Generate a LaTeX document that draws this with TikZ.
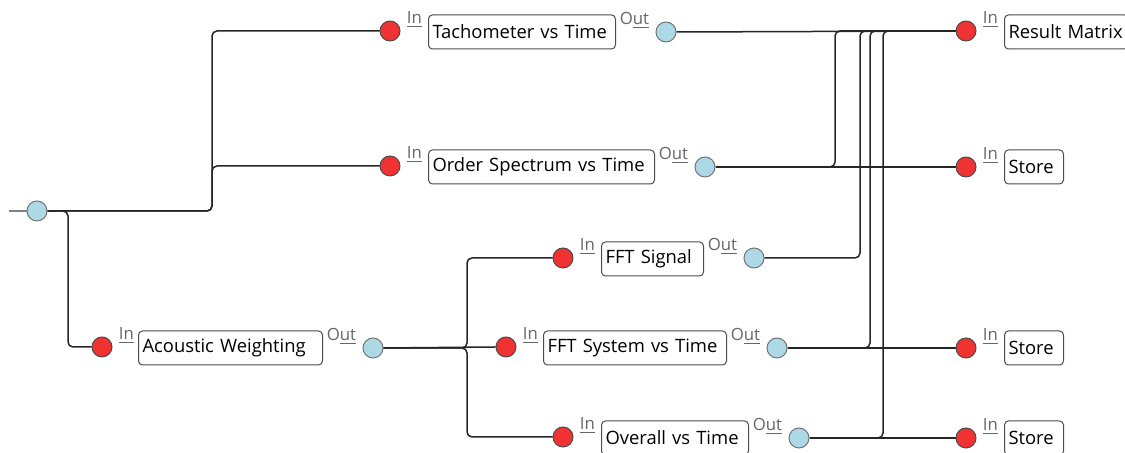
\documentclass[tikz,border=0pt]{standalone}
\usepackage{fontspec}
\setmainfont{Open Sans}
\usetikzlibrary{positioning}
\definecolor{inred}{HTML}{F03232}
\definecolor{outblue}{HTML}{ADD8E6}

\begin{document}
\begin{tikzpicture}[x=0.5pt,y=0.5pt,
    wire/.style={draw=black!85,line width=0.75pt,rounded corners=2.5pt},
    inport/.style={circle,draw=black!70,fill=inred,minimum size=10pt,inner sep=0pt,line width=0.5pt},
    outport/.style={circle,draw=black!55,fill=outblue,minimum size=10pt,inner sep=0pt,line width=0.5pt},
    block/.style={draw=black!70,rounded corners=2pt,fill=white,minimum height=17pt,inner xsep=2pt,inner ysep=0pt,align=left,anchor=west,font=\fontsize{9.2}{10}\selectfont,line width=0.5pt},
    portlbl/.style={text=black!60,font=\fontsize{8.4}{8}\selectfont,inner sep=0pt}]
    \useasboundingbox (0,0) rectangle (1125,453);

    % source
    \coordinate (stub) at (9,242);
    \node[outport] (src) at (37,242) {};

    % upper branch
    \node[inport] (tachin) at (390,422) {};
    \node[block,text width=89.5pt] (tachbox) at (428,421) {Tachometer vs Time};
    \node[outport] (tachout) at (666,421) {};
    \node[portlbl,above right=1.5pt and 3pt of tachin.east] {\underline{In}};
    \node[portlbl,above left=1.5pt and 3pt of tachout.west] {O\underline{ut}};

    \node[inport] (ordin) at (390,287) {};
    \node[block,text width=109pt] (ordbox) at (428,286) {Order Spectrum vs Time};
    \node[outport] (ordout) at (705,286) {};
    \node[portlbl,above right=1.5pt and 3pt of ordin.east] {\underline{In}};
    \node[portlbl,above left=1.5pt and 3pt of ordout.west] {O\underline{ut}};

    % lower branch
    \node[inport] (acin) at (102,106) {};
    \node[block,text width=88pt] (acbox) at (138,105) {Acoustic Weighting};
    \node[outport] (acout) at (373,105) {};
    \node[portlbl,above right=1.5pt and 3pt of acin.east] {\underline{In}};
    \node[portlbl,above left=1.5pt and 3pt of acout.west] {O\underline{ut}};

    \node[inport] (fftsin) at (563,195) {};
    \node[block,text width=47pt] (fftsbox) at (601,194) {FFT Signal};
    \node[outport] (fftsout) at (754,195) {};
    \node[portlbl,above right=1.5pt and 3pt of fftsin.east] {\underline{In}};
    \node[portlbl,above left=1.5pt and 3pt of fftsout.west] {O\underline{ut}};

    \node[inport] (fftyin) at (506,106) {};
    \node[block,text width=87.5pt] (fftybox) at (543,105) {FFT System vs Time};
    \node[outport] (fftyout) at (777,105) {};
    \node[portlbl,above right=1.5pt and 3pt of fftyin.east] {\underline{In}};
    \node[portlbl,above left=1.5pt and 3pt of fftyout.west] {O\underline{ut}};

    \node[inport] (ovin) at (563,16) {};
    \node[block,text width=69.5pt] (ovbox) at (601,15) {Overall vs Time};
    \node[outport] (ovout) at (799,15) {};
    \node[portlbl,above right=1.5pt and 3pt of ovin.east] {\underline{In}};
    \node[portlbl,above left=1.5pt and 3pt of ovout.west] {O\underline{ut}};

    % sinks
    \node[inport] (resin) at (966,422) {};
    \node[block,text width=58pt] (resbox) at (1004,421) {Result Matrix};
    \node[portlbl,above right=1.5pt and 3pt of resin.east] {\underline{In}};
    \foreach \n/\y in {1/286,2/105,3/15}{
      \node[inport] (st\n in) at (966,\y) {};
      \node[block,text width=25.5pt] (st\n box) at (1004,\y) {Store};
      \node[portlbl,above right=1.5pt and 3pt of st\n in.east] {\underline{In}};
    }

    % junctions
    \coordinate (j1) at (212,242);
    \coordinate (j2) at (68,242);
    \coordinate (j3) at (467,105);
    \coordinate (j4) at (835,286);
    \coordinate (j5) at (860,195);
    \coordinate (j6) at (870,105);
    \coordinate (j7) at (883,15);

    % wires
    \draw[wire,draw=black!50] (stub) -- (src.west);
    \draw[wire] (src.east) -- (j1) |- (tachin.west);
    \draw[wire] (src.east) -- (j1) |- (ordin.west);
    \draw[wire] (src.east) -- (j2) |- (acin.west);

    \draw[wire] (acout.east) -- (j3) |- (fftsin.west);
    \draw[wire] (acout.east) -- (fftyin.west);
    \draw[wire] (acout.east) -- (j3) |- (ovin.west);

    \draw[wire] (tachout.east) -- (resin.west);
    \draw[wire] (ordout.east) -- (st1in.west);
    \draw[wire] (ordout.east) -- (j4) |- (resin.west);
    \draw[wire] (fftsout.east) -- (j5) |- (resin.west);
    \draw[wire] (fftyout.east) -- (st2in.west);
    \draw[wire] (fftyout.east) -- (j6) |- (resin.west);
    \draw[wire] (ovout.east) -- (st3in.west);
    \draw[wire] (ovout.east) -- (j7) |- (resin.west);
\end{tikzpicture}
\end{document}
